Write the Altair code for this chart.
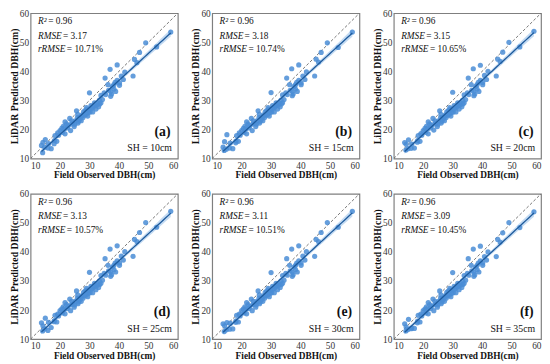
import altair as alt
import numpy as np
import pandas as pd

SERIF = "Liberation Serif"

# Field observed DBH (cm) - shared by all panels
observed = [13.7, 14.1, 14.2, 14.8, 15.0, 15.9, 16.1, 17.0, 18.0, 18.1,
            18.3, 18.9, 19.2, 19.5, 20.0, 20.6, 20.8, 21.1, 21.4, 21.7,
            21.7, 22.2, 22.5, 22.8, 23.3, 23.6, 23.9, 24.0, 24.4, 24.8,
            25.0, 25.2, 25.6, 25.9, 26.0, 26.1, 26.3, 26.5, 26.7, 27.2,
            27.2, 27.5, 27.8, 28.0, 28.3, 28.5, 28.9, 29.0, 29.2, 29.4,
            29.7, 29.8, 30.0, 30.2, 30.5, 30.6, 31.1, 31.1, 31.5, 31.7,
            32.0, 32.2, 32.5, 32.8, 33.1, 33.4, 33.5, 33.9, 33.9, 34.4,
            35.0, 35.3, 35.5, 36.3, 36.5, 37.0, 37.2, 37.2, 37.5, 37.8,
            38.3, 38.3, 38.7, 38.9, 39.4, 39.4, 40.2, 40.2, 40.8, 41.5,
            42.0, 44.8, 45.3, 46.1, 47.0, 49.1, 52.8, 57.6]

pred_a = [14.5, 12.0, 15.6, 13.9, 16.5, 13.6, 15.1, 13.4, 15.1, 16.2,
          17.9, 15.9, 18.8, 18.0, 19.6, 20.4, 19.0, 21.1, 20.2, 18.5,
          22.6, 21.9, 20.5, 21.3, 23.8, 19.6, 21.9, 23.0, 22.2, 21.0,
          21.8, 23.0, 26.4, 24.1, 25.2, 22.2, 22.8, 24.0, 23.5, 24.4,
          23.0, 25.0, 24.1, 26.1, 24.9, 26.5, 25.2, 27.5, 26.9, 24.6,
          25.8, 26.7, 32.6, 26.0, 28.2, 27.2, 27.5, 26.0, 28.0, 29.2,
          28.3, 27.0, 28.5, 29.0, 27.8, 30.1, 28.8, 31.7, 29.2, 30.3,
          32.6, 37.7, 32.0, 35.4, 33.5, 40.7, 33.1, 31.4, 32.2, 34.8,
          33.9, 35.4, 36.2, 33.1, 36.9, 42.2, 36.0, 35.2, 38.4, 37.2,
          39.7, 38.4, 44.1, 43.0, 46.5, 49.8, 48.4, 53.5]

pred_b = [13.9, 12.8, 15.8, 13.2, 18.2, 13.6, 15.3, 13.4, 15.4, 16.0,
          17.9, 15.9, 18.8, 18.0, 19.6, 20.4, 19.0, 21.1, 20.2, 18.5,
          22.6, 21.9, 20.5, 21.3, 23.8, 19.6, 21.9, 23.0, 22.2, 21.0,
          21.8, 23.0, 26.4, 24.1, 25.2, 22.2, 22.8, 24.0, 23.5, 24.4,
          23.0, 25.0, 24.1, 26.1, 24.9, 26.5, 25.2, 27.5, 26.9, 24.6,
          25.8, 26.7, 32.7, 26.0, 28.2, 27.2, 27.5, 26.0, 28.0, 29.2,
          28.3, 27.0, 28.5, 29.0, 27.8, 30.1, 28.8, 31.9, 29.2, 30.3,
          32.6, 37.7, 32.0, 35.4, 33.5, 40.9, 33.1, 31.6, 32.2, 34.8,
          33.9, 35.4, 36.2, 33.1, 36.9, 42.2, 36.0, 35.4, 38.4, 37.2,
          39.8, 38.4, 44.2, 43.2, 46.5, 49.8, 48.2, 53.5]

pred_c = [15.5, 12.9, 14.9, 13.4, 16.4, 13.5, 15.0, 13.6, 15.6, 16.2,
          17.9, 15.9, 18.6, 18.0, 19.6, 20.4, 19.0, 21.1, 20.2, 18.5,
          22.6, 21.9, 20.5, 21.3, 23.8, 19.8, 21.9, 23.0, 22.2, 21.0,
          21.8, 23.0, 26.4, 24.1, 25.2, 22.2, 22.8, 24.0, 23.5, 24.4,
          23.0, 25.0, 24.1, 26.1, 24.9, 26.5, 25.2, 27.5, 26.9, 24.6,
          25.8, 26.7, 32.8, 26.0, 28.2, 27.2, 27.5, 26.0, 28.0, 29.2,
          28.3, 27.0, 28.5, 29.0, 27.8, 30.1, 28.8, 31.9, 29.2, 30.3,
          32.6, 37.7, 32.0, 35.4, 33.5, 40.9, 33.1, 31.6, 32.2, 34.8,
          33.9, 35.4, 36.2, 33.1, 36.9, 42.1, 36.2, 35.4, 38.6, 37.2,
          40.0, 38.4, 44.2, 43.4, 46.6, 50.0, 48.4, 53.8]

pred_d = [15.6, 12.8, 14.6, 13.5, 17.2, 13.0, 15.8, 14.0, 16.0, 16.4,
          18.2, 15.9, 18.6, 18.0, 19.8, 20.4, 19.0, 21.1, 20.2, 18.7,
          22.6, 21.9, 20.5, 21.3, 23.8, 19.8, 21.9, 23.0, 22.2, 21.0,
          21.8, 23.0, 26.6, 24.1, 25.2, 22.2, 22.8, 24.0, 23.5, 24.4,
          23.0, 25.0, 24.1, 26.1, 24.9, 26.5, 25.2, 27.5, 26.9, 24.6,
          25.8, 26.7, 33.0, 26.0, 28.2, 27.2, 27.5, 26.0, 28.0, 29.2,
          28.3, 27.0, 28.5, 29.0, 27.8, 30.1, 28.8, 31.9, 29.2, 30.3,
          32.6, 37.7, 32.0, 35.4, 33.5, 41.0, 33.1, 31.6, 32.2, 34.8,
          33.9, 35.4, 36.2, 33.1, 36.9, 42.1, 36.2, 35.4, 38.6, 37.2,
          40.1, 38.5, 44.3, 43.6, 46.7, 50.1, 48.5, 54.0]

pred_e = [15.3, 12.6, 14.6, 13.2, 15.7, 13.4, 15.5, 13.5, 15.8, 16.3,
          18.2, 15.9, 18.6, 18.0, 19.8, 20.4, 19.0, 21.1, 20.2, 18.7,
          22.6, 21.9, 20.5, 21.3, 23.8, 19.8, 21.9, 23.0, 22.2, 21.0,
          21.8, 23.0, 26.6, 24.1, 25.2, 22.2, 22.8, 24.0, 23.5, 24.4,
          23.0, 25.0, 24.1, 26.1, 24.9, 26.5, 25.2, 27.5, 26.9, 24.6,
          25.8, 26.7, 32.9, 26.0, 28.2, 27.2, 27.5, 26.0, 28.0, 29.2,
          28.3, 27.0, 28.5, 29.0, 27.8, 30.1, 28.8, 31.9, 29.2, 30.3,
          32.6, 37.7, 32.0, 35.4, 33.5, 41.0, 33.1, 31.6, 32.2, 34.8,
          33.9, 35.4, 36.2, 33.1, 36.9, 42.1, 36.2, 35.4, 38.6, 37.2,
          40.1, 38.5, 44.3, 43.6, 46.7, 50.1, 48.5, 54.0]

pred_f = [15.3, 12.8, 14.2, 13.3, 16.8, 13.6, 13.8, 13.7, 15.6, 16.2,
          18.2, 15.9, 18.6, 18.0, 19.8, 20.4, 19.0, 21.1, 20.2, 18.7,
          22.6, 21.9, 20.5, 21.3, 23.8, 19.8, 21.9, 23.0, 22.2, 21.0,
          21.8, 23.0, 26.6, 24.1, 25.2, 22.2, 22.8, 24.0, 23.5, 24.4,
          23.0, 25.0, 24.1, 26.1, 24.9, 26.5, 25.2, 27.5, 26.9, 24.6,
          25.8, 26.7, 32.9, 26.0, 28.2, 27.2, 27.5, 26.0, 28.0, 29.2,
          28.3, 27.0, 28.5, 29.0, 27.8, 30.1, 28.8, 31.9, 29.2, 30.3,
          32.6, 37.7, 32.0, 35.4, 33.5, 41.0, 33.1, 31.6, 32.2, 34.8,
          33.9, 35.4, 36.2, 33.1, 36.9, 42.0, 36.2, 35.4, 38.4, 37.2,
          40.0, 38.4, 44.3, 43.4, 46.6, 50.1, 48.4, 53.8]

predictions = [pred_a, pred_b, pred_c, pred_d, pred_e, pred_f]
panel_tags = ["(a)", "(b)", "(c)", "(d)", "(e)", "(f)"]
sh_labels = ["SH = 10cm", "SH = 15cm", "SH = 20cm", "SH = 25cm", "SH = 30cm", "SH = 35cm"]
r2_values = ["= 0.96"] * 6
rmse_values = ["= 3.17", "= 3.18", "= 3.15", "= 3.13", "= 3.11", "= 3.09"]
rrmse_values = ["= 10.71%", "= 10.74%", "= 10.65%", "= 10.57%", "= 10.51%", "= 10.45%"]
stat_names = ["R²", "RMSE", "rRMSE"]
axis_ticks = [10, 20, 30, 40, 50, 60]
diag_vals = [10, 60]

W, H = 150, 148


def fit_band(xv, yv):
    x = np.array(xv, dtype=float)
    y = np.array(yv, dtype=float)
    n = len(x)
    b, a = np.polyfit(x, y, 1)
    xs = np.linspace(x.min(), x.max(), 50)
    yhat = a + b * xs
    resid = y - (a + b * x)
    s = np.sqrt(np.sum(resid ** 2) / (n - 2))
    se = s * np.sqrt(1.0 / n + (xs - x.mean()) ** 2 / np.sum((x - x.mean()) ** 2))
    t = 1.985
    return pd.DataFrame({"x": xs, "y": yhat, "lo": yhat - t * se, "hi": yhat + t * se})


xscale = alt.Scale(domain=[10, 60], nice=False)
yscale = alt.Scale(domain=[10, 60], nice=False)
xaxis = alt.Axis(values=axis_ticks, title="Field Observed DBH(cm)", labelPadding=2,
                 titlePadding=0, titleFontSize=9.5, labelFontSize=9.5,
                 labelFont=SERIF, titleFont=SERIF, titleFontWeight="bold",
                 labelColor="#333333", titleColor="#111111")
yaxis = alt.Axis(values=axis_ticks, title="LiDAR Predicted DBH(cm)", labelPadding=2,
                 titlePadding=0, titleFontSize=10, labelFontSize=9.5,
                 labelFont=SERIF, titleFont=SERIF, titleFontWeight="bold",
                 labelColor="#333333", titleColor="#111111")


def X(f="x"):
    return alt.X(f"{f}:Q", scale=xscale, axis=xaxis)


def Y(f="y"):
    return alt.Y(f"{f}:Q", scale=yscale, axis=yaxis)


def panel(i):
    pts_df = pd.DataFrame({"x": observed, "y": predictions[i]})
    band_df = fit_band(observed, predictions[i])
    diag_df = pd.DataFrame({"x": diag_vals, "y": diag_vals})
    ann_y = [57.3, 52.3, 47.6]
    lab_df = pd.DataFrame({"x": [12.5] * 3, "y": ann_y, "t": stat_names})
    val_df = pd.DataFrame({"x": [16.0, 21.0, 22.3], "y": ann_y,
                           "t": [r2_values[i], rmse_values[i], rrmse_values[i]]})
    tag_df = pd.DataFrame({"x": [57.5], "y": [19.2], "t": [panel_tags[i]]})
    sh_df = pd.DataFrame({"x": [58.0], "y": [13.6], "t": [sh_labels[i]]})

    diag = alt.Chart(diag_df).mark_line(color="#555555", strokeWidth=0.8,
                                        strokeDash=[3, 2], clip=True).encode(x=X(), y=Y())
    band = alt.Chart(band_df).mark_area(color="#a9cbec", opacity=0.7).encode(
        x=X(), y=Y("lo"), y2="hi:Q")
    pts = alt.Chart(pts_df).mark_circle(size=28, color="#4a8dd6", opacity=0.85).encode(
        x=X(), y=Y())
    line = alt.Chart(band_df).mark_line(color="#1d5a9c", strokeWidth=1.3).encode(x=X(), y=Y())
    lab = alt.Chart(lab_df).mark_text(align="left", baseline="middle", font=SERIF,
                                      fontSize=9.5, fontStyle="italic", color="#111").encode(
        x=X(), y=Y(), text="t:N")
    val = alt.Chart(val_df).mark_text(align="left", baseline="middle", font=SERIF,
                                      fontSize=9.5, color="#111").encode(
        x=X(), y=Y(), text="t:N")
    tag = alt.Chart(tag_df).mark_text(align="right", baseline="middle", font=SERIF,
                                      fontSize=14, fontWeight="bold", color="#111").encode(
        x=X(), y=Y(), text="t:N")
    sh = alt.Chart(sh_df).mark_text(align="right", baseline="middle", font=SERIF,
                                    fontSize=10, color="#111").encode(
        x=X(), y=Y(), text="t:N")
    return alt.layer(diag, band, pts, line, lab, val, tag, sh).properties(width=W, height=H)


row1 = alt.hconcat(panel(0), panel(1), panel(2), spacing=11)
row2 = alt.hconcat(panel(3), panel(4), panel(5), spacing=11)

chart = alt.vconcat(row1, row2, spacing=8).properties(
    padding={"left": 0, "top": -4, "right": 0, "bottom": 0},
    background="white"
).configure_view(
    stroke="#7f7f7f", strokeWidth=1.2
).configure_axis(
    domain=False, grid=False, ticks=False
)

chart.save("out.html", embed_options={"renderer": "svg", "actions": False})
